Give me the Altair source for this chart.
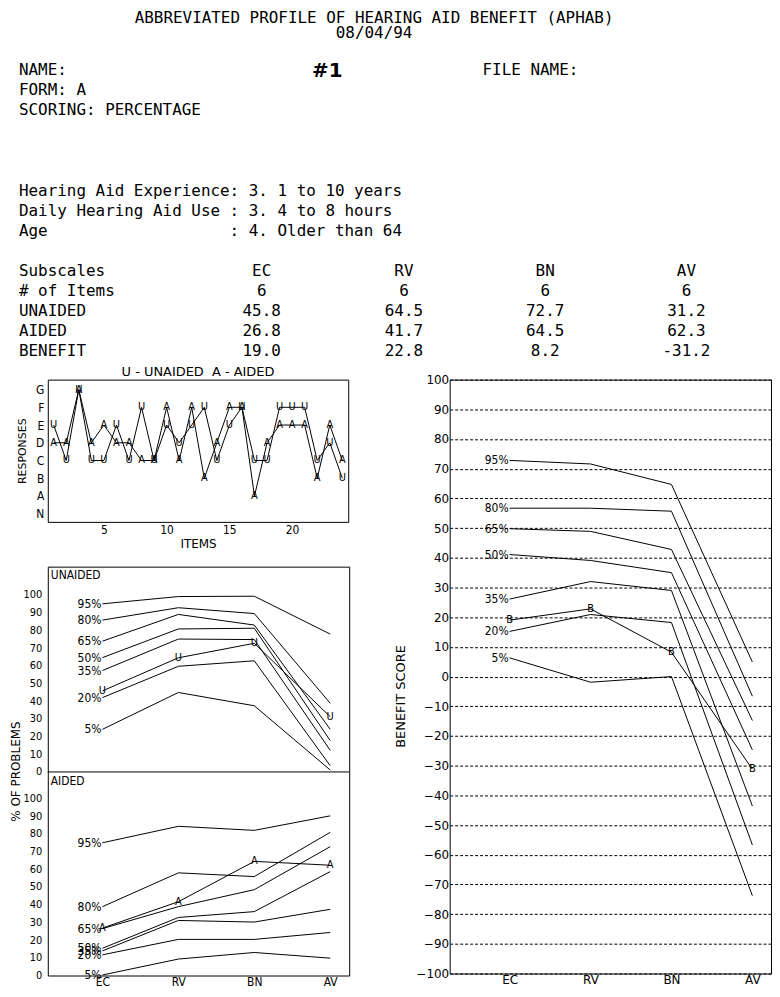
import json
import altair as alt
import pandas as pd

# ---------------- data ----------------
title_text = "ABBREVIATED PROFILE OF HEARING AID BENEFIT (APHAB)"
date_text = "08/04/94"
form_lines = ["NAME:", "FORM: A", "SCORING: PERCENTAGE"]
id_text = "#1"
file_text = "FILE NAME:"
profile_lines = [
    "Hearing Aid Experience: 3. 1 to 10 years",
    "Daily Hearing Aid Use : 3. 4 to 8 hours",
    "Age                   : 4. Older than 64",
]
table_rows = ["Subscales", "# of Items", "UNAIDED", "AIDED", "BENEFIT"]

subscales = ["EC", "RV", "BN", "AV"]
n_items = [6, 6, 6, 6]
unaided_scores = [45.8, 64.5, 72.7, 31.2]
aided_scores = [26.8, 41.7, 64.5, 62.3]
benefit_scores = [19.0, 22.8, 8.2, -31.2]

items = list(range(1, 25))
response_levels = ["N", "A", "B", "C", "D", "E", "F", "G"]
unaided_responses = list("ECGCCECFCEDEFCEFCCFFFCDB")
aided_responses = list("DDGDEDDCCFCFBDFFADEEEBEC")

percentiles = ["95%", "80%", "65%", "50%", "35%", "20%", "5%"]
unaided_norms = [
    [95.0, 99.1, 99.3, 77.9],
    [85.8, 92.8, 89.5, 38.8],
    [73.9, 89.0, 83.0, 24.1],
    [64.6, 80.8, 81.2, 17.7],
    [57.3, 75.1, 74.8, 12.2],
    [42.0, 59.7, 62.8, 3.5],
    [24.1, 44.9, 37.4, 1.1],
]
aided_norms = [
    [75.0, 84.3, 82.0, 90.2],
    [38.9, 58.0, 55.9, 80.9],
    [26.5, 38.9, 48.5, 72.8],
    [15.4, 32.8, 36.1, 58.7],
    [13.9, 31.1, 30.2, 37.4],
    [11.7, 20.4, 20.4, 24.3],
    [0.3, 9.3, 13.0, 9.8],
]
benefit_norms = [
    [72.8, 71.6, 64.7, 4.9],
    [56.7, 56.7, 55.7, -6.6],
    [49.8, 48.9, 42.8, -14.8],
    [41.1, 39.1, 35.0, -24.7],
    [26.1, 32.0, 29.0, -43.6],
    [15.2, 20.9, 18.2, -56.7],
    [6.3, -1.9, 0.0, -73.8],
]

# ---------------- styling ----------------
MONO = "DejaVu Sans Mono"
SANS = "DejaVu Sans"
COND = "DejaVu Sans Condensed, DejaVu Sans"
BLACK = "#000000"
INK = alt.value(BLACK)
PANEL_GAP = 115  # vertical room of each of the stacked UNAIDED / AIDED panels


def nb(s):
    return s.replace(" ", "\u00a0")


# ---------------- header ----------------
HEADER_H = 356
HEADER_W = 700
COL_SHIFT = 2.9  # header origin sits at the left edge of the plots below
hdr = []
hdr.append(dict(text=nb(title_text), col=35.7, row=0.3, align="center", kind="txt"))
hdr.append(dict(text=date_text, col=35.7, row=1.05, align="center", kind="txt"))
for i, s in enumerate(form_lines):
    hdr.append(dict(text=nb(s), col=0, row=2.9 + i, align="left", kind="txt"))
hdr.append(dict(text=nb(file_text), col=46.6, row=2.9, align="left", kind="txt"))
hdr.append(dict(text=id_text, col=31.0, row=2.95, align="center", kind="id"))
for i, s in enumerate(profile_lines):
    hdr.append(dict(text=nb(s), col=0, row=8.95 + i * 1.02, align="left", kind="txt"))
table_values = [subscales, n_items, unaided_scores, aided_scores, benefit_scores]
sub_cols = [24.4, 38.7, 52.9, 67.1]
for r, (lab, vals) in enumerate(zip(table_rows, table_values)):
    hdr.append(dict(text=nb(lab), col=0, row=13 + r, align="left", kind="txt"))
    for c, v in zip(sub_cols, vals):
        if isinstance(v, str):
            t = v
        elif isinstance(v, int):
            t = str(v)
        else:
            t = f"{v:.1f}"
        hdr.append(dict(text=t, col=c, row=13 + r, align="center", kind="txt"))
hdr_df = pd.DataFrame(hdr)

hx = alt.X("col:Q", scale=alt.Scale(domain=[COL_SHIFT, COL_SHIFT + HEADER_W / 10], nice=False, zero=False),
           axis=None)
hy = alt.Y("row:Q", scale=alt.Scale(domain=[-0.1, (8 + HEADER_H - 10) / 20], reverse=True,
                                      nice=False, zero=False), axis=None)
hbase = alt.Chart(hdr_df).encode(x=hx, y=hy, text="text:N", color=INK)
header = alt.layer(
    hbase.transform_filter("datum.align == 'left' && datum.kind == 'txt'").mark_text(
        align="left", baseline="middle", font=MONO, fontSize=16),
    hbase.transform_filter("datum.align == 'center' && datum.kind == 'txt'").mark_text(
        align="center", baseline="middle", font=MONO, fontSize=16),
    hbase.transform_filter("datum.kind == 'id'").mark_text(
        align="center", baseline="middle", font=SANS, fontSize=20, fontWeight="bold"),
).properties(width=HEADER_W, height=HEADER_H, view=alt.ViewBackground(strokeOpacity=0))

# ---------------- responses panel ----------------
resp_df = pd.DataFrame({
    "item": items * 2,
    "series": ["U"] * len(items) + ["A"] * len(items),
    "response": unaided_responses + aided_responses,
})
resp_df["level"] = resp_df["response"].map(response_levels.index)

level_expr = json.dumps(response_levels) + "[datum.value]"
rx = alt.X("item:Q", scale=alt.Scale(domain=[0.53, 24.47], nice=False, zero=False),
           axis=alt.Axis(values=[5, 10, 15, 20], title="ITEMS", labelPadding=3, titlePadding=3,
                         labelFont=COND, labelFontSize=12, titleFont=SANS, titleFontSize=12))
ry = alt.Y("level:Q", scale=alt.Scale(domain=[-0.46, 7.56], nice=False, zero=False),
           axis=alt.Axis(values=list(range(len(response_levels))), labelExpr=level_expr,
                         title="RESPONSES", labelPadding=4, titlePadding=8,
                         labelFont=COND, labelFontSize=12, titleFont=SANS, titleFontSize=11))
rbase = alt.Chart(resp_df).encode(x=rx, y=ry)
responses = alt.layer(
    rbase.mark_line(strokeWidth=1).encode(detail="series:N", color=INK),
    rbase.mark_text(font=COND, fontSize=11, baseline="middle").encode(text="series:N", color=INK),
).properties(
    width=302, height=143,
    title=alt.TitleParams("U - UNAIDED\u00a0\u00a0A - AIDED", font=SANS, fontSize=13,
                          fontWeight="normal", color=BLACK, offset=1, anchor="middle"),
)

# ---------------- unaided / aided percentile panels ----------------
rows = []
for p, vals in zip(percentiles, unaided_norms):
    for i, v in enumerate(vals):
        rows.append(dict(panel="UNAIDED", series=p, sub=i + 1, value=v))
for p, vals in zip(percentiles, aided_norms):
    for i, v in enumerate(vals):
        rows.append(dict(panel="AIDED", series=p, sub=i + 1, value=v))
norm_df = pd.DataFrame(rows)

score_rows = []
for i, v in enumerate(unaided_scores):
    score_rows.append(dict(panel="UNAIDED", series="U", sub=i + 1, value=v))
for i, v in enumerate(aided_scores):
    score_rows.append(dict(panel="AIDED", series="A", sub=i + 1, value=v))
score_df = pd.DataFrame(score_rows)

panel_df = pd.DataFrame({"panel": ["UNAIDED", "AIDED"], "value": [111, 110], "sub": [0.28, 0.28]})
divider_df = pd.DataFrame({"value": [0], "panel": ["UNAIDED"]})

shift = f"datum.value + (datum.panel == 'UNAIDED' ? {PANEL_GAP} : 0)"
sub_expr = json.dumps([""] + subscales) + "[datum.value]"
tick_vals = list(range(0, 101, 10)) + [v + PANEL_GAP for v in range(0, 101, 10)]
py_label = f"'' + (datum.value >= {PANEL_GAP} ? datum.value - {PANEL_GAP} : datum.value)"

px = alt.X("sub:Q", scale=alt.Scale(domain=[0.28, 4.25], nice=False, zero=False),
           axis=alt.Axis(values=[1, 2, 3, 4], labelExpr=sub_expr, title=None, labelPadding=1,
                         labelFont=COND, labelFontSize=12))
py = alt.Y("y:Q", scale=alt.Scale(domain=[0, 2 * PANEL_GAP + 1], nice=False, zero=False),
           axis=alt.Axis(values=tick_vals, labelExpr=py_label, title="% OF PROBLEMS",
                         labelPadding=6, titlePadding=1, labelFont=COND, labelFontSize=11,
                         titleFont=SANS, titleFontSize=12))

norm_base = alt.Chart(norm_df).transform_calculate(y=shift).encode(x=px, y=py)
score_base = alt.Chart(score_df).transform_calculate(y=shift).encode(x=px, y=py)
problems = alt.layer(
    alt.Chart(divider_df).transform_calculate(y=shift).mark_rule(strokeWidth=1).encode(y=py, color=INK),
    norm_base.mark_line(strokeWidth=1).encode(detail=["panel:N", "series:N"], color=INK),
    norm_base.transform_filter("datum.sub == 1").mark_text(
        align="right", baseline="middle", dx=-1, font=COND, fontSize=12
    ).encode(text="series:N", color=INK),
    score_base.mark_line(strokeWidth=1).encode(detail="panel:N", color=INK),
    score_base.mark_text(baseline="middle", font=COND, fontSize=11).encode(text="series:N", color=INK),
    alt.Chart(panel_df).transform_calculate(y=shift).mark_text(
        align="left", baseline="middle", dx=3, font=COND, fontSize=12
    ).encode(x=px, y=py, text="panel:N", color=INK),
).properties(width=303, height=411)

# ---------------- benefit panel ----------------
brows = []
for p, vals in zip(percentiles, benefit_norms):
    for i, v in enumerate(vals):
        brows.append(dict(series=p, sub=i + 1, value=v))
bnorm_df = pd.DataFrame(brows)
bscore_df = pd.DataFrame({"series": ["B"] * 4, "sub": [1, 2, 3, 4], "value": benefit_scores})

bx = alt.X("sub:Q", scale=alt.Scale(domain=[0.26, 4.23], nice=False, zero=False),
           axis=alt.Axis(values=[1, 2, 3, 4], labelExpr=sub_expr, title=None, labelPadding=1,
                         labelFont=SANS, labelFontSize=12))
by = alt.Y("value:Q", scale=alt.Scale(domain=[-100, 100], nice=False, zero=False),
           axis=alt.Axis(values=list(range(-100, 101, 10)), title="BENEFIT SCORE",
                         labelPadding=1, titlePadding=8, grid=True, gridColor=BLACK,
                         gridDash=[3, 2], gridWidth=1, gridOpacity=1, titleY=318,
                         labelFont=SANS, labelFontSize=12, titleFont=SANS, titleFontSize=13))
bbase = alt.Chart(bnorm_df).encode(x=bx, y=by)
bsbase = alt.Chart(bscore_df).encode(x=bx, y=by)
benefit = alt.layer(
    bbase.mark_line(strokeWidth=1).encode(detail="series:N", color=INK),
    bbase.transform_filter("datum.sub == 1").mark_text(
        align="right", baseline="middle", dx=-1, font=COND, fontSize=12
    ).encode(text="series:N", color=INK),
    bsbase.mark_line(strokeWidth=1).encode(color=INK),
    bsbase.mark_text(baseline="middle", font=COND, fontSize=11).encode(text="series:N", color=INK),
).properties(width=323, height=597)

# ---------------- composition ----------------
left = alt.vconcat(responses, problems, spacing=15)
body = alt.hconcat(left, benefit, spacing=44)
chart = alt.vconcat(header, body, spacing=0).properties(
    padding=0, background="white"
).configure_view(
    stroke=BLACK, strokeWidth=1
).configure_axis(
    ticks=False, domain=False, grid=False, labelColor=BLACK, titleColor=BLACK,
    titleFontWeight="normal",
)

chart.save("out.html", embed_options={"renderer": "svg", "actions": False})
